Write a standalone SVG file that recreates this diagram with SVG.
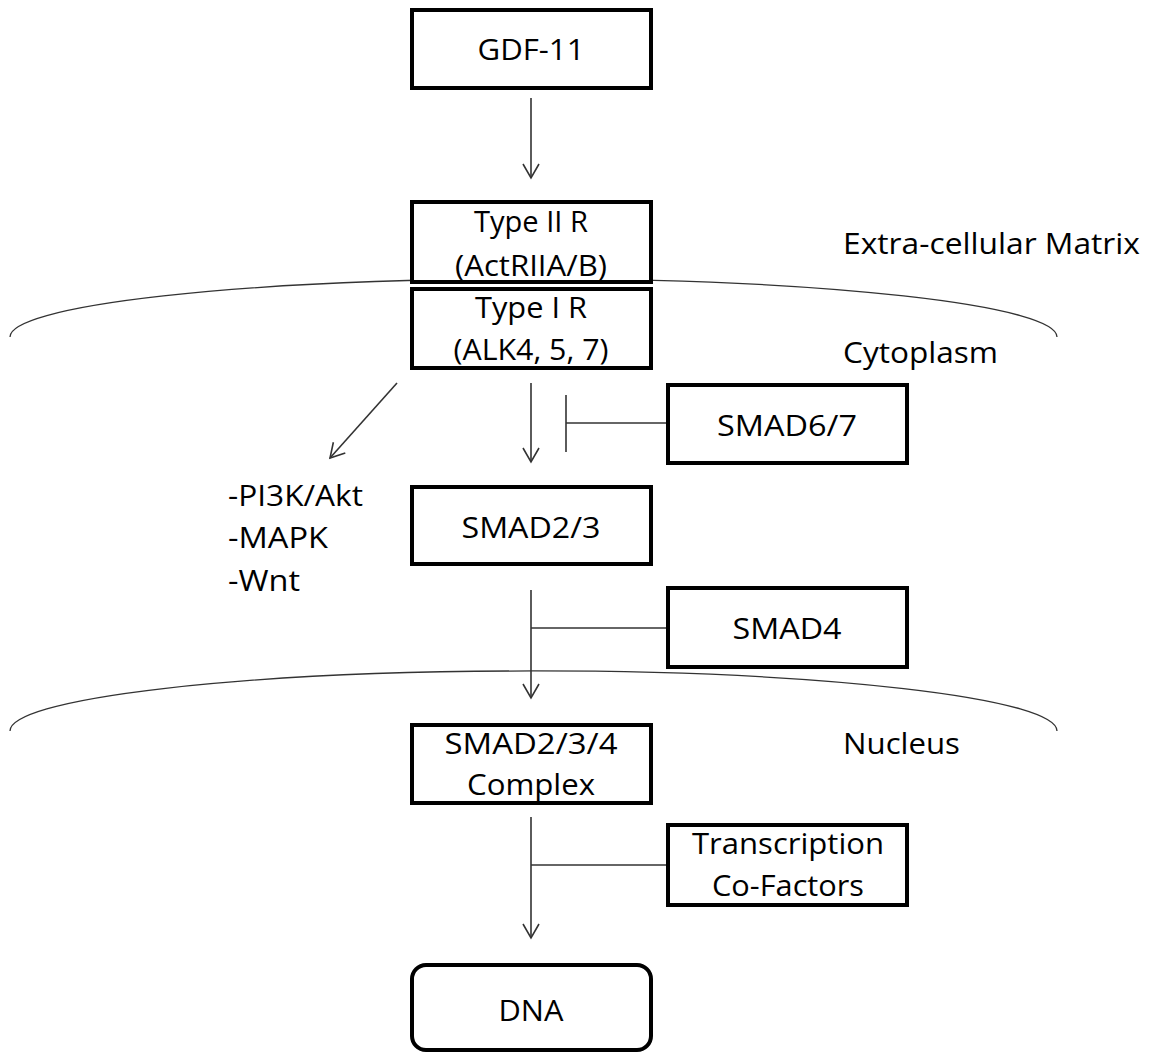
<svg xmlns="http://www.w3.org/2000/svg" width="1152" height="1055" viewBox="0 0 1152 1055">
<defs>
<marker id="arr" markerUnits="userSpaceOnUse" markerWidth="24" markerHeight="24" viewBox="-16 -12 20 24" refX="0" refY="0" orient="auto">
<polyline points="-14,-8 0,0 -14,8" fill="none" stroke="#333" stroke-width="1.6"/>
</marker>
<style>
.box{fill:#fff;stroke:#000;stroke-width:4}
.t{font-family:"Open Sans","Liberation Sans",sans-serif;font-size:29px;fill:#000;text-anchor:middle}
.l{font-family:"Open Sans","Liberation Sans",sans-serif;font-size:29px;fill:#000}
.c{fill:none;stroke:#333;stroke-width:1.6}
.m{fill:none;stroke:#333;stroke-width:1.3}
</style>
</defs>
<rect width="1152" height="1055" fill="#fff"/>
<g id="membranes">
<path class="m" d="M10,337 A523,58 0 0 1 1057,337"/>
<path class="m" d="M10,731 A523,60 0 0 1 1057,731"/>
</g>
<g id="connectors">
<line class="c" x1="531" y1="98" x2="531" y2="178" marker-end="url(#arr)"/>
<line class="c" x1="397" y1="383" x2="330" y2="458" marker-end="url(#arr)"/>
<line class="c" x1="531" y1="383" x2="531" y2="462" marker-end="url(#arr)"/>
<line class="c" x1="566" y1="395" x2="566" y2="452"/>
<line class="c" x1="566" y1="423" x2="668" y2="423"/>
<line class="c" x1="531" y1="590" x2="531" y2="698" marker-end="url(#arr)"/>
<line class="c" x1="531" y1="628" x2="668" y2="628"/>
<line class="c" x1="531" y1="817" x2="531" y2="938" marker-end="url(#arr)"/>
<line class="c" x1="531" y1="865" x2="668" y2="865"/>
</g>
<g id="gdf11"><rect class="box" x="412" y="10" width="239" height="78"/><text class="t" x="531" y="60" textLength="107" lengthAdjust="spacingAndGlyphs">GDF-11</text></g>
<g id="type2"><rect class="box" x="412" y="202" width="239" height="80"/><text class="t" x="531" y="232" textLength="114" lengthAdjust="spacingAndGlyphs">Type II R</text><text class="t" x="531" y="276" textLength="152" lengthAdjust="spacingAndGlyphs">(ActRIIA/B)</text></g>
<g id="type1"><rect class="box" x="412" y="289" width="239" height="79"/><text class="t" x="531" y="318" textLength="112" lengthAdjust="spacingAndGlyphs">Type I R</text><text class="t" x="531" y="360" textLength="155" lengthAdjust="spacingAndGlyphs">(ALK4, 5, 7)</text></g>
<g id="ecm"><text class="l" x="843" y="254" textLength="297" lengthAdjust="spacingAndGlyphs">Extra-cellular Matrix</text></g>
<g id="cytoplasm"><text class="l" x="843" y="363" textLength="155" lengthAdjust="spacingAndGlyphs">Cytoplasm</text></g>
<g id="smad67"><rect class="box" x="668" y="385" width="239" height="78"/><text class="t" x="787" y="436" textLength="140" lengthAdjust="spacingAndGlyphs">SMAD6/7</text></g>
<g id="pathways"><text class="l" x="228" y="506" textLength="135" lengthAdjust="spacingAndGlyphs">-PI3K/Akt</text><text class="l" x="228" y="548" textLength="100" lengthAdjust="spacingAndGlyphs">-MAPK</text><text class="l" x="228" y="591" textLength="72" lengthAdjust="spacingAndGlyphs">-Wnt</text></g>
<g id="smad23"><rect class="box" x="412" y="487" width="239" height="77"/><text class="t" x="531" y="538" textLength="139" lengthAdjust="spacingAndGlyphs">SMAD2/3</text></g>
<g id="smad4"><rect class="box" x="668" y="588" width="239" height="79"/><text class="t" x="787" y="639" textLength="109" lengthAdjust="spacingAndGlyphs">SMAD4</text></g>
<g id="nucleus"><text class="l" x="843" y="754" textLength="117" lengthAdjust="spacingAndGlyphs">Nucleus</text></g>
<g id="complex"><rect class="box" x="412" y="725" width="239" height="78"/><text class="t" x="531" y="754" textLength="173" lengthAdjust="spacingAndGlyphs">SMAD2/3/4</text><text class="t" x="531" y="795" textLength="128" lengthAdjust="spacingAndGlyphs">Complex</text></g>
<g id="cofactors"><rect class="box" x="668" y="825" width="239" height="80"/><text class="t" x="788" y="854" textLength="192" lengthAdjust="spacingAndGlyphs">Transcription</text><text class="t" x="788" y="896" textLength="152" lengthAdjust="spacingAndGlyphs">Co-Factors</text></g>
<g id="dna"><rect class="box" x="412" y="965" width="239" height="85" rx="14"/><text class="t" x="531" y="1021" textLength="65" lengthAdjust="spacingAndGlyphs">DNA</text></g>
</svg>
